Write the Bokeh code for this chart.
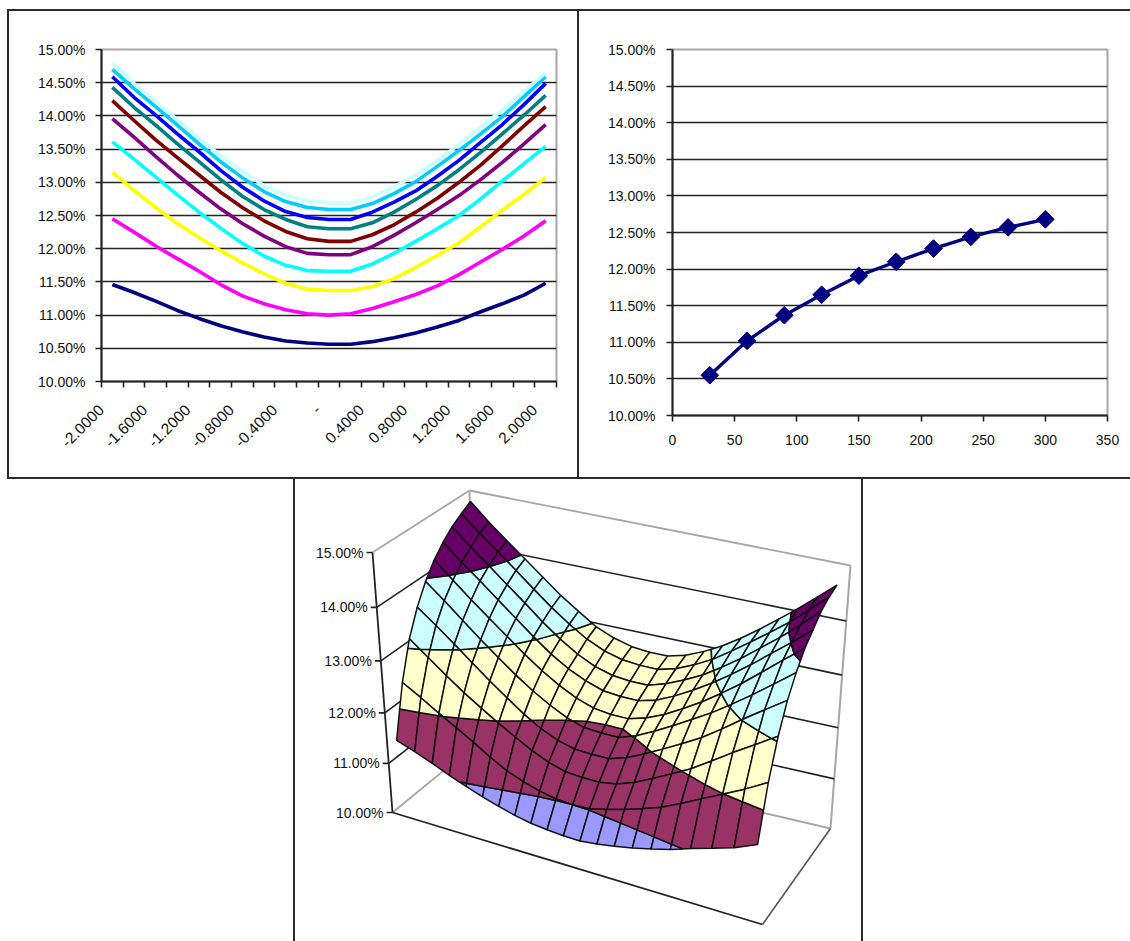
import math
import numpy as np
from bokeh.embed import file_html
from bokeh.resources import INLINE
from bokeh.layouts import column, row
from bokeh.models import (ColumnDataSource, FixedTicker, LinearAxis, Range1d, Spacer)
from bokeh.plotting import figure
from bokeh.core.properties import value

FONT = "Liberation Sans"

# ---------- data ----------
maturities = [30, 60, 90, 120, 150, 180, 210, 240, 270, 300]
strike_labels = ["-2.0000", "-1.6000", "-1.2000", "-0.8000", "-0.4000", "-",
                 "0.4000", "0.8000", "1.2000", "1.6000", "2.0000"]
vol_ticks = [10, 10.5, 11, 11.5, 12, 12.5, 13, 13.5, 14, 14.5, 15]
vol_tick_labels = ["10.00%", "10.50%", "11.00%", "11.50%", "12.00%", "12.50%",
                   "13.00%", "13.50%", "14.00%", "14.50%", "15.00%"]
surface_ticks = [10, 11, 12, 13, 14, 15]
surface_tick_labels = ["10.00%", "11.00%", "12.00%", "13.00%", "14.00%", "15.00%"]
maturity_ticks = [0, 50, 100, 150, 200, 250, 300, 350]

vol_30 = [11.46, 11.34, 11.21, 11.07, 10.95, 10.84, 10.75, 10.67, 10.61, 10.58, 10.56,
          10.56, 10.60, 10.66, 10.73, 10.82, 10.92, 11.05, 11.17, 11.30, 11.48]
vol_60 = [12.45, 12.25, 12.04, 11.85, 11.66, 11.46, 11.29, 11.17, 11.08, 11.02, 11.00,
          11.02, 11.10, 11.20, 11.31, 11.44, 11.61, 11.80, 11.99, 12.19, 12.42]
vol_90 = [13.15, 12.88, 12.62, 12.38, 12.17, 11.97, 11.79, 11.62, 11.48, 11.39, 11.37,
          11.37, 11.43, 11.55, 11.72, 11.90, 12.09, 12.33, 12.58, 12.82, 13.07]
vol_120 = [13.61, 13.35, 13.08, 12.81, 12.55, 12.31, 12.08, 11.89, 11.75, 11.67, 11.66,
           11.66, 11.77, 11.93, 12.11, 12.30, 12.50, 12.75, 13.02, 13.28, 13.54]
vol_150 = [13.96, 13.68, 13.39, 13.11, 12.85, 12.60, 12.38, 12.19, 12.03, 11.93, 11.91,
           11.91, 12.03, 12.20, 12.39, 12.59, 12.80, 13.04, 13.30, 13.58, 13.87]
vol_180 = [14.23, 13.93, 13.64, 13.37, 13.11, 12.85, 12.62, 12.42, 12.26, 12.15, 12.11,
           12.11, 12.21, 12.36, 12.55, 12.76, 13.00, 13.26, 13.55, 13.85, 14.14]
vol_210 = [14.43, 14.13, 13.86, 13.58, 13.31, 13.04, 12.79, 12.59, 12.44, 12.33, 12.30,
           12.30, 12.39, 12.55, 12.74, 12.95, 13.19, 13.45, 13.73, 14.01, 14.31]
vol_240 = [14.59, 14.28, 14.01, 13.73, 13.46, 13.18, 12.93, 12.72, 12.56, 12.47, 12.44,
           12.44, 12.55, 12.70, 12.87, 13.09, 13.33, 13.60, 13.87, 14.17, 14.49]
vol_270 = [14.70, 14.41, 14.14, 13.86, 13.58, 13.31, 13.07, 12.86, 12.71, 12.62, 12.59,
           12.59, 12.68, 12.83, 13.01, 13.24, 13.48, 13.73, 13.99, 14.29, 14.59]
vol_300 = [14.80, 14.49, 14.21, 13.94, 13.67, 13.40, 13.17, 12.95, 12.81, 12.72, 12.69,
           12.69, 12.78, 12.93, 13.11, 13.33, 13.57, 13.83, 14.09, 14.37, 14.65]
atm_vol = [10.55, 11.02, 11.37, 11.65, 11.91, 12.10, 12.28, 12.44, 12.57, 12.68]

series = [vol_30, vol_60, vol_90, vol_120, vol_150, vol_180, vol_210, vol_240, vol_270, vol_300]
series_colors = ["#000080", "#FF00FF", "#FFFF00", "#00FFFF", "#800080",
                 "#800000", "#008080", "#0000FF", "#00CCFF", "#CCFFFF"]
band_edges = [10, 11, 12, 13, 14, 15]
band_colors = ["#9999FF", "#993366", "#FFFFCC", "#CCFFFF", "#660066"]

GREY = "#A6A6A6"
BORDER = "#2A2A2A"


def bar(w, h, color=None):
    st = {"background-color": color} if color else {}
    return Spacer(width=w, height=h, styles=st)


def style_axis(ax):
    ax.axis_line_color = "#222222"
    ax.axis_line_width = 2
    ax.major_tick_line_color = "#222222"
    ax.major_tick_line_width = 1.6
    ax.major_tick_in = 0
    ax.major_tick_out = 6
    ax.minor_tick_line_color = None
    ax.major_label_text_font = FONT
    ax.major_label_text_font_size = "14px"
    ax.major_label_text_color = "#111111"


def base_chart(x_range, width, fw, fh, left, top, bottom, y_standoff):
    p = figure(width=width, height=466, frame_width=fw, frame_height=fh,
               x_range=x_range, y_range=Range1d(10, 15), output_backend="svg",
               toolbar_location=None, min_border_left=left, min_border_top=top,
               min_border_bottom=bottom, min_border_right=width - left - fw,
               background_fill_color="white", border_fill_color="white",
               x_axis_type=None, y_axis_type=None)
    p.outline_line_color = GREY
    p.outline_line_width = 2
    yax = LinearAxis(ticker=FixedTicker(ticks=vol_ticks),
                     major_label_overrides=dict(zip(vol_ticks, vol_tick_labels)))
    style_axis(yax)
    yax.major_label_standoff = y_standoff
    p.add_layout(yax, "left")
    p.ygrid.visible = False
    p.xgrid.visible = False
    p.hspan(y=[v for v in vol_ticks if 10 < v < 15], line_color="#222222", line_width=1.6)
    return p


# ---------- panel 1: smiles ----------
n_strikes = len(vol_30)
p1 = base_chart(Range1d(0, n_strikes), 568, 455, 332, 92, 38, 96, 10)
boundaries = list(range(n_strikes + 1))
label_map = {b: "" for b in boundaries}
for k, lab in enumerate(strike_labels):
    label_map[2 * k] = lab
xax1 = LinearAxis(ticker=FixedTicker(ticks=boundaries), major_label_overrides=label_map)
style_axis(xax1)
xax1.major_label_orientation = math.pi / 4
xax1.major_label_text_font_size = "15.5px"
xax1.major_label_standoff = 20
p1.add_layout(xax1, "below")
centres = [i + 0.5 for i in range(n_strikes)]
for vals, col in zip(series, series_colors):
    p1.line(centres, vals, line_color=col, line_width=3.6, line_join="round")

# ---------- panel 2: at the money term structure ----------
p2 = base_chart(Range1d(0, 350), 551, 435, 366, 93, 38, 62, 11)
xax2 = LinearAxis(ticker=FixedTicker(ticks=maturity_ticks))
style_axis(xax2)
xax2.major_label_standoff = 13
p2.add_layout(xax2, "below")
p2.line(maturities, atm_vol, line_color="#000080", line_width=3.4)
p2.scatter(maturities, atm_vol, marker="square", angle=math.pi / 4, size=12.5,
           fill_color="#000080", line_color="#000080")

# ---------- panel 3: surface ----------
# box corners on the page, y measured downward
FL = {"A": (392, 812), "B": (762, 924), "C": (830, 828), "D": (474, 745)}
TP = {"A": (372, 552), "B": (738, 640), "C": (850, 565), "D": (469, 490)}
# the mesh itself does not quite follow the box
FL_SHIFT = {"A": 8, "B": -10, "C": -12, "D": -4}
TP_SHIFT = {"A": 14, "B": 32, "C": -12, "D": 1}


def bilinear(d, sh, u, v):
    a, b, c, e = [(d[k][0] + sh[k], d[k][1]) for k in "ABCD"]
    x = (1 - v) * ((1 - u) * a[0] + u * b[0]) + v * ((1 - u) * e[0] + u * c[0])
    y = (1 - v) * ((1 - u) * a[1] + u * b[1]) + v * ((1 - u) * e[1] + u * c[1])
    return x, y


def height_frac(z):
    f = (z - 10) / 5
    return f * (0.93 + 0.07 * f)


def project(u, v, z):
    f = height_frac(z)
    w = u - 0.3 * (1 - v) * u * u * (1 - u)
    x0, y0 = bilinear(FL, FL_SHIFT, w, v)
    x1, y1 = bilinear(TP, TP_SHIFT, w, v)
    return x0 + (x1 - x0) * f, y0 + (y1 - y0) * f


def clip(poly, level, keep_above):
    out = []
    n = len(poly)
    for i in range(n):
        a, b = poly[i], poly[(i + 1) % n]
        ina = a[2] >= level if keep_above else a[2] <= level
        inb = b[2] >= level if keep_above else b[2] <= level
        if ina:
            out.append(a)
        if ina != inb:
            t = (level - a[2]) / (b[2] - a[2])
            out.append((a[0] + (b[0] - a[0]) * t, a[1] + (b[1] - a[1]) * t, level))
    return out


p3 = figure(width=566, height=462, frame_width=566, frame_height=462,
            x_range=Range1d(295, 861), y_range=Range1d(941, 479),
            output_backend="svg", toolbar_location=None, min_border=0,
            x_axis_type=None, y_axis_type=None,
            background_fill_color="white", border_fill_color="white")
p3.outline_line_color = None
p3.grid.visible = False


def wall_pt(corner, z):
    f = height_frac(z)
    x0, y0 = FL[corner]
    x1, y1 = TP[corner]
    return x0 + (x1 - x0) * f, y0 + (y1 - y0) * f


# walls and floor
for a, b, z in [("A", "D", 15), ("D", "C", 15), ("A", "D", 10), ("D", "C", 10)]:
    pa, pb = wall_pt(a, z), wall_pt(b, z)
    p3.line([pa[0], pb[0]], [pa[1], pb[1]], line_color=GREY, line_width=1.8)
for c in "DC":
    pa, pb = wall_pt(c, 10), wall_pt(c, 15)
    p3.line([pa[0], pb[0]], [pa[1], pb[1]], line_color=GREY, line_width=2)
for z in surface_ticks[1:-1]:
    for a, b in [("A", "D"), ("D", "C")]:
        pa, pb = wall_pt(a, z), wall_pt(b, z)
        p3.line([pa[0], pb[0]], [pa[1], pb[1]], line_color="#222222", line_width=1.6)

# front axes
pa, pb = wall_pt("A", 10), wall_pt("A", 15)
p3.line([pa[0], pb[0]], [pa[1], pb[1]], line_color="#222222", line_width=1.8)
pa, pb = wall_pt("A", 10), wall_pt("B", 10)
p3.line([pa[0], pb[0]], [pa[1], pb[1]], line_color="#222222", line_width=1.8)
pa, pb = wall_pt("B", 10), wall_pt("C", 10)
p3.line([pa[0], pb[0]], [pa[1], pb[1]], line_color="#555555", line_width=1.6)

# the surface, drawn back to front
xs, ys, fills = [], [], []
nu, nv = n_strikes, len(series)
for i in range(nu - 1):
    for j in range(nv - 2, -1, -1):
        quad = [(i / (nu - 1), j / (nv - 1), series[j][i]),
                (i / (nu - 1), (j + 1) / (nv - 1), series[j + 1][i]),
                ((i + 1) / (nu - 1), (j + 1) / (nv - 1), series[j + 1][i + 1]),
                ((i + 1) / (nu - 1), j / (nv - 1), series[j][i + 1])]
        for b, col in enumerate(band_colors):
            piece = clip(quad, band_edges[b], True)
            if piece:
                piece = clip(piece, band_edges[b + 1], False)
            if len(piece) >= 3:
                pts = [project(*q) for q in piece]
                xs.append([q[0] for q in pts])
                ys.append([q[1] for q in pts])
                fills.append(col)
p3.patches(xs="xs", ys="ys", fill_color="fills", line_color="#111111", line_width=1.5,
           source=ColumnDataSource(dict(xs=xs, ys=ys, fills=fills)))

# value axis ticks and labels
tx, ty = [], []
for z, lab in zip(surface_ticks, surface_tick_labels):
    x, y = wall_pt("A", z)
    p3.line([x - 6, x], [y, y], line_color="#222222", line_width=1.6)
    tx.append(x - 9)
    ty.append(y)
p3.text(tx, ty, text=surface_tick_labels, text_font=value(FONT), text_font_size="14px",
        text_color="#111111", text_align="right", text_baseline="middle")

# page layout: thin dark bars are the panel borders
page = column(
    bar(1130, 9),
    row(bar(7, 2), bar(1123, 2, BORDER), spacing=0),
    row(bar(7, 466), bar(2, 466, BORDER), p1, bar(2, 466, BORDER), p2, spacing=0),
    row(bar(7, 2), bar(1123, 2, BORDER), spacing=0),
    row(bar(293, 462), bar(2, 462, BORDER), p3, bar(2, 462, BORDER), spacing=0),
    spacing=0,
)
open("out.html", "w").write(file_html(page, INLINE))
